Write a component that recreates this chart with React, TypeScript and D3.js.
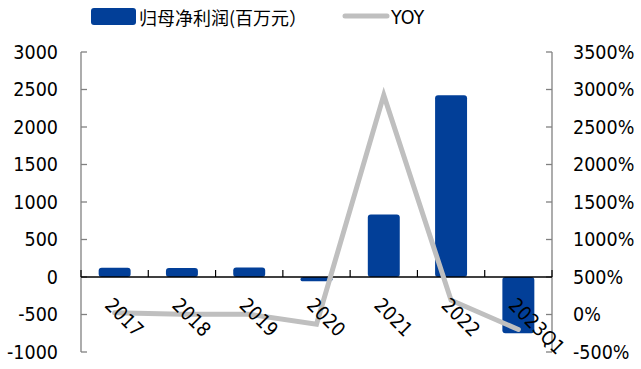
import React from "react";
import * as d3 from "d3";

const categories = ["2017", "2018", "2019", "2020", "2021", "2022", "2023Q1"];
const profit = [122, 120, 126, -58, 834, 2425, -750];
const yoy = [22, 2, 2, -130, 2925, 190, -200];
const leftTicks = [3000, 2500, 2000, 1500, 1000, 500, 0, -500, -1000];
const rightTicks = [3500, 3000, 2500, 2000, 1500, 1000, 500, 0, -500];

const W = 641;
const H = 369;
const left = 81;
const right = 552;
const top = 52;
const bottom = 352;

const BLUE = "#023f98";
const GRAY = "#bfbfbf";
const FONT = "'DejaVu Sans Condensed', 'DejaVu Sans', sans-serif";

export default function App() {
  const x = d3.scaleBand<string>().domain(categories).range([left, right]).padding(0);
  const yL = d3.scaleLinear().domain([-1000, 3000]).range([bottom, top]);
  const yR = d3.scaleLinear().domain([-500, 3500]).range([bottom, top]);
  const bw = x.bandwidth() * 0.475;
  const cx = (c: string) => (x(c) as number) + x.bandwidth() / 2;
  const y0 = yL(0);

  const line = d3
    .line<number>()
    .x((_, i) => cx(categories[i]))
    .y((d) => yR(d));

  const boundaries = categories.map((c) => x(c) as number).concat([right]);

  return (
    <svg
      width={W}
      height={H}
      style={{ position: "absolute", left: 0, top: 0, background: "#fff" }}
      fontFamily={FONT}
    >
      {/* legend */}
      <rect x={91} y={8} width={45} height={17} rx={3} fill={BLUE} />
      <text
        x={139}
        y={16.5}
        dominantBaseline="central"
        fontSize={18}
        fontFamily="'Noto Sans CJK SC', sans-serif"
        fill="#000"
      >
        归母净利润(百万元）
      </text>
      <line x1={345} x2={387} y1={16} y2={16} stroke={GRAY} strokeWidth={5} strokeLinecap="round" />
      <text x={391} y={17} dominantBaseline="central" fontSize={19.5} fill="#000">
        YOY
      </text>

      {/* left axis */}
      <line x1={left} x2={left} y1={top} y2={bottom} stroke="#808080" strokeWidth={1.3} />
      {leftTicks.map((t) => (
        <g key={"l" + t}>
          <line x1={left} x2={left + 6} y1={yL(t)} y2={yL(t)} stroke="#808080" strokeWidth={1.3} />
          <text x={58} y={yL(t)} textAnchor="end" dominantBaseline="central" fontSize={19.5} fill="#000">
            {t}
          </text>
        </g>
      ))}

      {/* right axis */}
      <line x1={right} x2={right} y1={top} y2={bottom} stroke="#808080" strokeWidth={1.3} />
      {rightTicks.map((t) => (
        <g key={"r" + t}>
          <line x1={right - 6} x2={right} y1={yR(t)} y2={yR(t)} stroke="#808080" strokeWidth={1.3} />
          <text x={573} y={yR(t)} textAnchor="start" dominantBaseline="central" fontSize={19.5} fill="#000">
            {t + "%"}
          </text>
        </g>
      ))}

      {/* bars */}
      {categories.map((c, i) => {
        const v = profit[i];
        const y1 = yL(Math.max(v, 0));
        const y2 = yL(Math.min(v, 0));
        return (
          <rect
            key={c}
            x={cx(c) - bw / 2}
            y={y1}
            width={bw}
            height={y2 - y1}
            rx={3}
            fill={BLUE}
          />
        );
      })}

      {/* category axis */}
      <line x1={left} x2={right} y1={y0} y2={y0} stroke="#000" strokeWidth={1.5} />
      {boundaries.map((b, i) => (
        <line key={"t" + i} x1={b} x2={b} y1={y0} y2={y0 - 7} stroke="#000" strokeWidth={1.2} />
      ))}

      {/* YOY line */}
      <path
        d={line(yoy) || ""}
        fill="none"
        stroke={GRAY}
        strokeWidth={5}
        strokeLinejoin="miter"
        strokeLinecap="round"
      />

      {/* category labels */}
      {categories.map((c) => (
        <text
          key={"x" + c}
          transform={`translate(${cx(c) - 0.5},${296}) rotate(45)`}
          dy="0.75em"
          fontSize={19.5}
          fill="#000"
        >
          {c}
        </text>
      ))}
    </svg>
  );
}
